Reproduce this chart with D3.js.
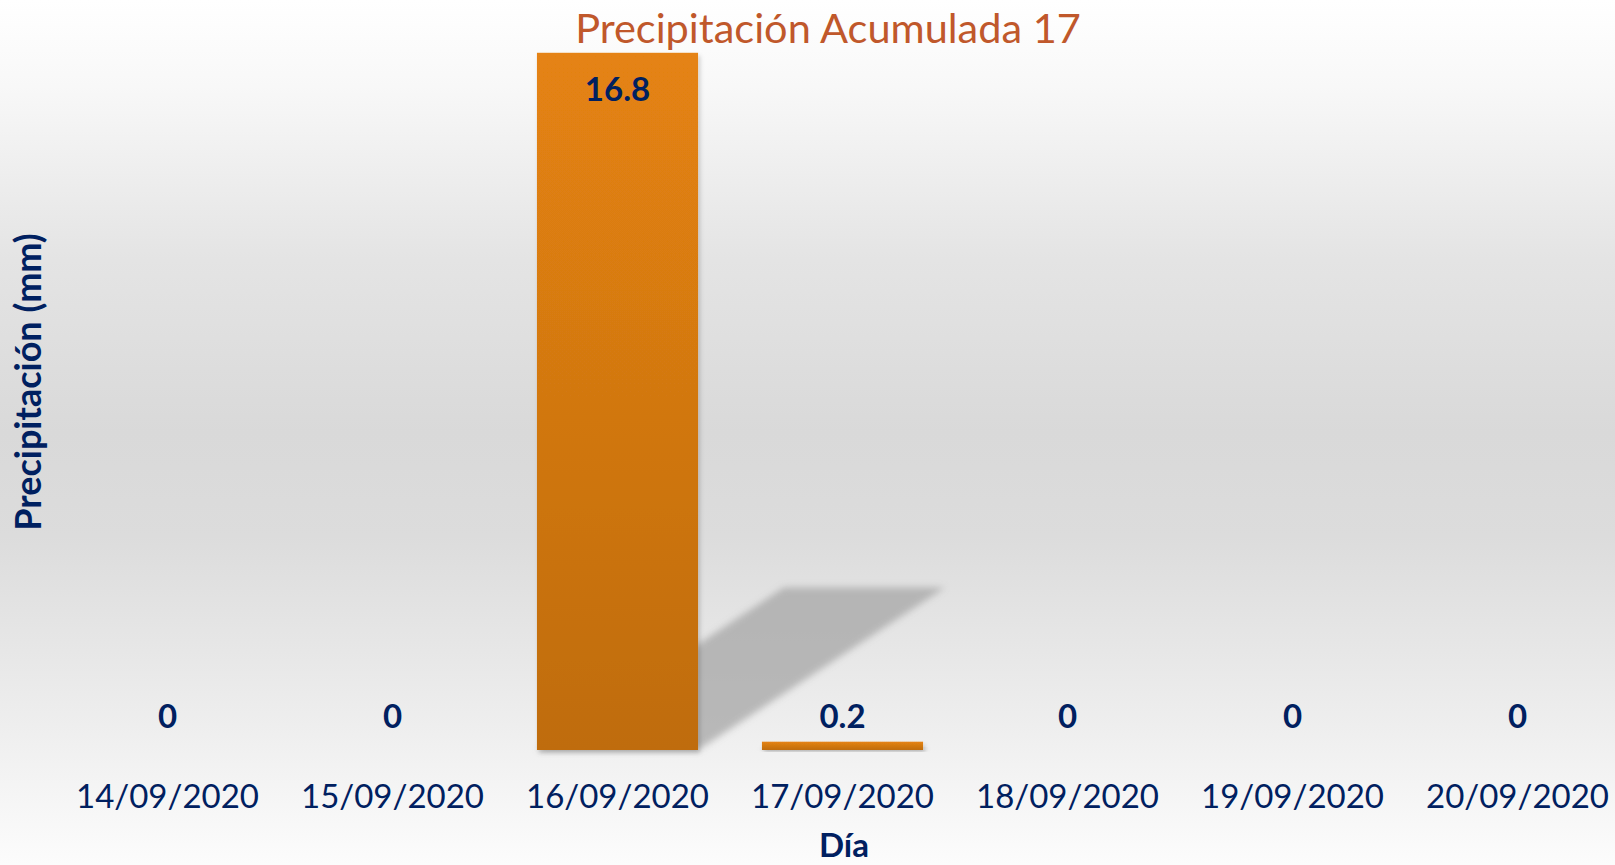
<!DOCTYPE html>
<html>
<head>
<meta charset="utf-8">
<script src="https://cdn.jsdelivr.net/npm/d3@7"></script>
<style>
  html, body { margin: 0; padding: 0; background: #fff; }
  svg { display: block; }
</style>
</head>
<body>
<svg id="chart" width="1615" height="865"></svg>
<script>
// ---- data ----
const categories = ["14/09/2020", "15/09/2020", "16/09/2020", "17/09/2020", "18/09/2020", "19/09/2020", "20/09/2020"];
const values = [0, 0, 16.8, 0.2, 0, 0, 0];
const titleText = "Precipitación Acumulada 17";
const xTitle = "Día";
const yTitle = "Precipitación (mm)";
const yDomain = [0, 18];

// ---- layout ----
const W = 1615, H = 865;
const svg = d3.select("#chart");
const navy = "#002060";
const fontFam = "Lato, 'Open Sans', sans-serif";

const defs = svg.append("defs");
const bg = defs.append("linearGradient").attr("id", "bg").attr("x1", 0).attr("x2", 0).attr("y1", 0).attr("y2", 1);
[[0, "#ffffff"], [0.1, "#f8f8f8"], [0.3, "#e4e4e4"], [0.5, "#d9d9d9"], [0.62, "#dcdcdc"], [0.85, "#efefef"], [1, "#fcfcfc"]]
  .forEach(([o, c]) => bg.append("stop").attr("offset", o).attr("stop-color", c));
const barG = defs.append("linearGradient").attr("id", "barG").attr("x1", 0).attr("x2", 0).attr("y1", 0).attr("y2", 1);
[[0, "#e58312"], [1, "#bf6c10"]].forEach(([o, c]) => barG.append("stop").attr("offset", o).attr("stop-color", c));
const blur = defs.append("filter").attr("id", "blur").attr("x", "-20%").attr("y", "-20%").attr("width", "140%").attr("height", "140%");
blur.append("feGaussianBlur").attr("stdDeviation", 3.5);
const drop = defs.append("filter").attr("id", "drop").attr("x", "-10%").attr("y", "-10%").attr("width", "130%").attr("height", "130%");
drop.append("feDropShadow").attr("dx", 2).attr("dy", 3).attr("stdDeviation", 2).attr("flood-color", "#000").attr("flood-opacity", 0.18);

svg.append("rect").attr("width", W).attr("height", H).attr("fill", "url(#bg)");

const x = d3.scaleBand().domain(categories).range([55, 1630]).paddingInner(0.284).paddingOuter(0.142);
const y = d3.scaleLinear().domain(yDomain).range([750, 3]);

const data = categories.map((c, i) => ({ c, v: values[i] }));

// perspective shadows
const shadowScale = 0.233, shadowSkew = 1.52;
svg.append("g").selectAll("path").data(data.filter(d => d.v > 0)).join("path")
  .attr("d", d => {
    const x0 = x(d.c), x1 = x0 + x.bandwidth(), yb = y(0);
    const h = (y(0) - y(d.v)) * shadowScale;
    const dx = h * shadowSkew;
    return `M${x0},${yb}L${x1},${yb}L${x1 + dx},${yb - h}L${x0 + dx},${yb - h}Z`;
  })
  .attr("fill", "#a6a6a6").attr("opacity", 0.75).attr("filter", "url(#blur)");

// bars
svg.append("g").selectAll("rect").data(data.filter(d => d.v > 0)).join("rect")
  .attr("x", d => x(d.c)).attr("width", x.bandwidth())
  .attr("y", d => y(d.v)).attr("height", d => y(0) - y(d.v))
  .attr("fill", "url(#barG)").attr("filter", "url(#drop)");

// value labels
svg.append("g").selectAll("text").data(data).join("text")
  .attr("x", d => x(d.c) + x.bandwidth() / 2)
  .attr("y", d => d.v > 5 ? y(d.v) + 48 : 728)
  .attr("text-anchor", "middle")
  .attr("font-family", fontFam).attr("font-weight", 700).attr("font-size", 33)
  .attr("fill", navy)
  .text(d => d.v);

// x axis tick labels
const xAxis = d3.axisBottom(x).tickSize(0).tickPadding(0);
const gx = svg.append("g").attr("transform", "translate(0,808)").call(xAxis);
gx.select(".domain").remove();
gx.selectAll("text").attr("dy", 0).attr("y", 0)
  .attr("font-family", fontFam).attr("font-size", 33).attr("fill", navy);

// titles
svg.append("text").attr("x", 828).attr("y", 43).attr("text-anchor", "middle")
  .attr("font-family", fontFam).attr("font-size", 41.5).attr("fill", "#c0582b").text(titleText);
svg.append("text").attr("x", 844).attr("y", 857).attr("text-anchor", "middle")
  .attr("font-family", fontFam).attr("font-weight", 700).attr("font-size", 33).attr("fill", navy).text(xTitle);
svg.append("text").attr("transform", "translate(41,382) rotate(-90)").attr("text-anchor", "middle")
  .attr("font-family", fontFam).attr("font-weight", 700).attr("font-size", 36).attr("fill", navy).text(yTitle);
</script>
</body>
</html>
